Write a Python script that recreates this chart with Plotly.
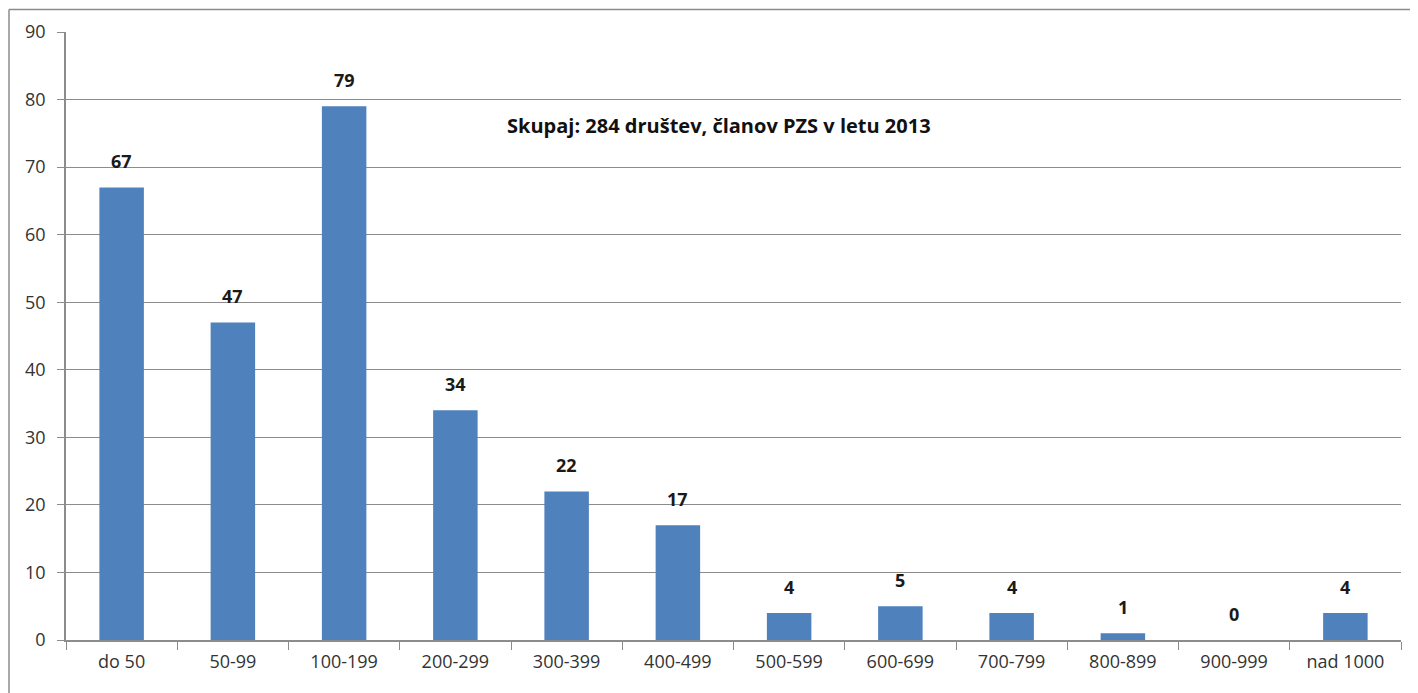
import plotly.graph_objects as go

categories = ['do 50', '50-99', '100-199', '200-299', '300-399', '400-499',
              '500-599', '600-699', '700-799', '800-899', '900-999', 'nad 1000']
counts = [67, 47, 79, 34, 22, 17, 4, 5, 4, 1, 0, 4]
y_ticks = list(range(0, 91, 10))
note = 'Skupaj: 284 društev, članov PZS v letu 2013'

FONT = 'Open Sans, Noto Sans, sans-serif'
GRID = '#8c8c8c'
TXT = '#333'

fig = go.Figure()
fig.add_trace(go.Bar(
    x=categories,
    y=counts,
    marker=dict(color='#4f81bd', line=dict(width=0)),
    width=0.4,
    hoverinfo='x+y',
))

# value labels above the bars
for c, v in zip(categories, counts):
    fig.add_annotation(
        x=c, y=v, text=f'<b>{v}</b>', showarrow=False,
        yanchor='bottom', yshift=12,
        font=dict(size=18, color='#1a1a1a', family=FONT),
    )

fig.add_annotation(
    xref='paper', yref='paper', x=0.4895, y=0.847,
    xanchor='center', yanchor='middle',
    text=f'<b>{note}</b>', showarrow=False,
    font=dict(size=20, color='#111', family=FONT),
)

# chart border (only top and left edges are in view)
fig.add_shape(type='line', xref='paper', yref='paper',
              x0=-0.0427, x1=1.1, y0=1.037, y1=1.037,
              line=dict(color='#8c8c8c', width=1.5))
fig.add_shape(type='line', xref='paper', yref='paper',
              x0=-0.0427, x1=-0.0427, y0=1.037, y1=-0.2,
              line=dict(color='#8c8c8c', width=1.5))

fig.update_layout(
    width=1410, height=685,
    margin=dict(l=58, r=17, t=24, b=53),
    plot_bgcolor='white',
    paper_bgcolor='white',
    showlegend=False,
    font=dict(family=FONT, size=18, color=TXT),
    bargap=0.6,
    xaxis=dict(
        showgrid=False,
        showline=True, linecolor=GRID, linewidth=1.5,
        ticks='outside', tickson='boundaries', ticklen=8, tickcolor=GRID,
        ticklabelstandoff=5,
        tickfont=dict(size=18, color=TXT),
        zeroline=False,
    ),
    yaxis=dict(
        range=[0, 90],
        tickvals=y_ticks,
        showgrid=True, gridcolor=GRID, gridwidth=1.2,
        showline=True, linecolor=GRID, linewidth=1.5,
        ticks='outside', ticklen=7, tickcolor=GRID,
        ticklabelstandoff=8,
        tickfont=dict(size=18, color=TXT),
        zeroline=False,
    ),
)

fig.write_html('out.html')
